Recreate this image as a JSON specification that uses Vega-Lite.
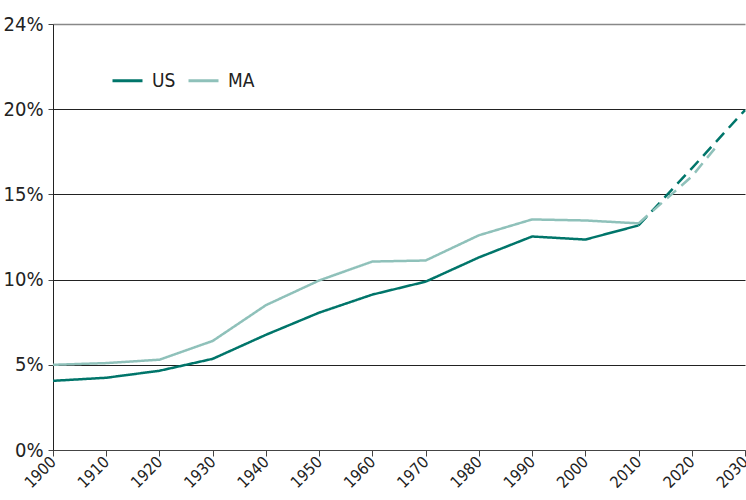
{
  "$schema": "https://vega.github.io/schema/vega-lite/v6.json",
  "width": 692,
  "height": 426,
  "autosize": {"type": "none"},
  "padding": {"left": 53, "top": 24, "right": 1, "bottom": 50},
  "background": "white",
  "config": {
    "font": "'DejaVu Sans Condensed', 'Liberation Sans Narrow', 'Roboto Condensed', sans-serif",
    "view": {"stroke": null}
  },
  "data": {
    "values": [
      {"year": 1900, "value": 4.06, "series": "US", "seg": "actual"},
      {"year": 1910, "value": 4.24, "series": "US", "seg": "actual"},
      {"year": 1920, "value": 4.65, "series": "US", "seg": "actual"},
      {"year": 1930, "value": 5.35, "series": "US", "seg": "actual"},
      {"year": 1940, "value": 6.76, "series": "US", "seg": "actual"},
      {"year": 1950, "value": 8.06, "series": "US", "seg": "actual"},
      {"year": 1960, "value": 9.12, "series": "US", "seg": "actual"},
      {"year": 1970, "value": 9.88, "series": "US", "seg": "actual"},
      {"year": 1980, "value": 11.3, "series": "US", "seg": "actual"},
      {"year": 1990, "value": 12.53, "series": "US", "seg": "actual"},
      {"year": 2000, "value": 12.35, "series": "US", "seg": "actual"},
      {"year": 2010, "value": 13.18, "series": "US", "seg": "actual"},
      {"year": 2010, "value": 13.18, "series": "US", "seg": "projected"},
      {"year": 2020, "value": 16.53, "series": "US", "seg": "projected"},
      {"year": 2030, "value": 19.95, "series": "US", "seg": "projected"},
      {"year": 1900, "value": 5.0, "series": "MA", "seg": "actual"},
      {"year": 1910, "value": 5.1, "series": "MA", "seg": "actual"},
      {"year": 1920, "value": 5.3, "series": "MA", "seg": "actual"},
      {"year": 1930, "value": 6.4, "series": "MA", "seg": "actual"},
      {"year": 1940, "value": 8.5, "series": "MA", "seg": "actual"},
      {"year": 1950, "value": 9.95, "series": "MA", "seg": "actual"},
      {"year": 1960, "value": 11.06, "series": "MA", "seg": "actual"},
      {"year": 1970, "value": 11.12, "series": "MA", "seg": "actual"},
      {"year": 1980, "value": 12.6, "series": "MA", "seg": "actual"},
      {"year": 1990, "value": 13.53, "series": "MA", "seg": "actual"},
      {"year": 2000, "value": 13.47, "series": "MA", "seg": "actual"},
      {"year": 2010, "value": 13.3, "series": "MA", "seg": "actual"},
      {"year": 2010, "value": 13.3, "series": "MA", "seg": "projected"},
      {"year": 2020, "value": 16.05, "series": "MA", "seg": "projected"},
      {"year": 2025, "value": 17.95, "series": "MA", "seg": "projected"}
    ]
  },
  "mark": {"type": "line", "strokeWidth": 2.5},
  "encoding": {
    "x": {
      "field": "year",
      "type": "quantitative",
      "scale": {"domain": [1900, 2030], "nice": false, "zero": false},
      "axis": {
        "title": null,
        "values": [1900, 1910, 1920, 1930, 1940, 1950, 1960, 1970, 1980, 1990, 2000, 2010, 2020, 2030],
        "format": "d",
        "grid": false,
        "labelAngle": -45,
        "labelAlign": "right",
        "labelBaseline": "middle",
        "labelFontSize": 16,
        "labelColor": "#222",
        "labelPadding": 3,
        "tickSize": 6,
        "tickColor": "#444",
        "domainColor": "#444",
        "labelOverlap": false,
        "labelBound": false,
        "labelFlush": false
      }
    },
    "y": {
      "field": "value",
      "type": "quantitative",
      "scale": {"domain": [0, 25], "nice": false},
      "axis": {
        "title": null,
        "values": [0, 5, 10, 15, 20, 25],
        "labelExpr": "datum.value == 25 ? '24%' : datum.value + '%'",
        "grid": true,
        "gridColor": {"condition": {"test": "datum.value == 25", "value": "#888"}, "value": "#222"},
        "gridWidth": {"condition": {"test": "datum.value == 25", "value": 1.5}, "value": 1},
        "labelFontSize": 20,
        "labelColor": "#222",
        "labelPadding": 5,
        "tickSize": 5,
        "tickColor": "#444",
        "domainColor": "#222",
        "labelFlush": false,
        "labelBound": false
      }
    },
    "color": {
      "field": "series",
      "type": "nominal",
      "scale": {"domain": ["US", "MA"], "range": ["#00756a", "#8fc1ba"]},
      "legend": {
        "title": null,
        "orient": "none",
        "direction": "horizontal",
        "legendX": 58,
        "legendY": 40,
        "symbolType": "stroke",
        "symbolSize": 900,
        "symbolStrokeWidth": 3,
        "labelFontSize": 19,
        "labelColor": "#222",
        "columnPadding": 6,
        "labelOffset": 8
      }
    },
    "strokeDash": {
      "field": "seg",
      "type": "nominal",
      "scale": {"domain": ["actual", "projected"], "range": [[1, 0], [12, 7]]},
      "legend": null
    },
    "detail": {"field": "seg"}
  }
}
